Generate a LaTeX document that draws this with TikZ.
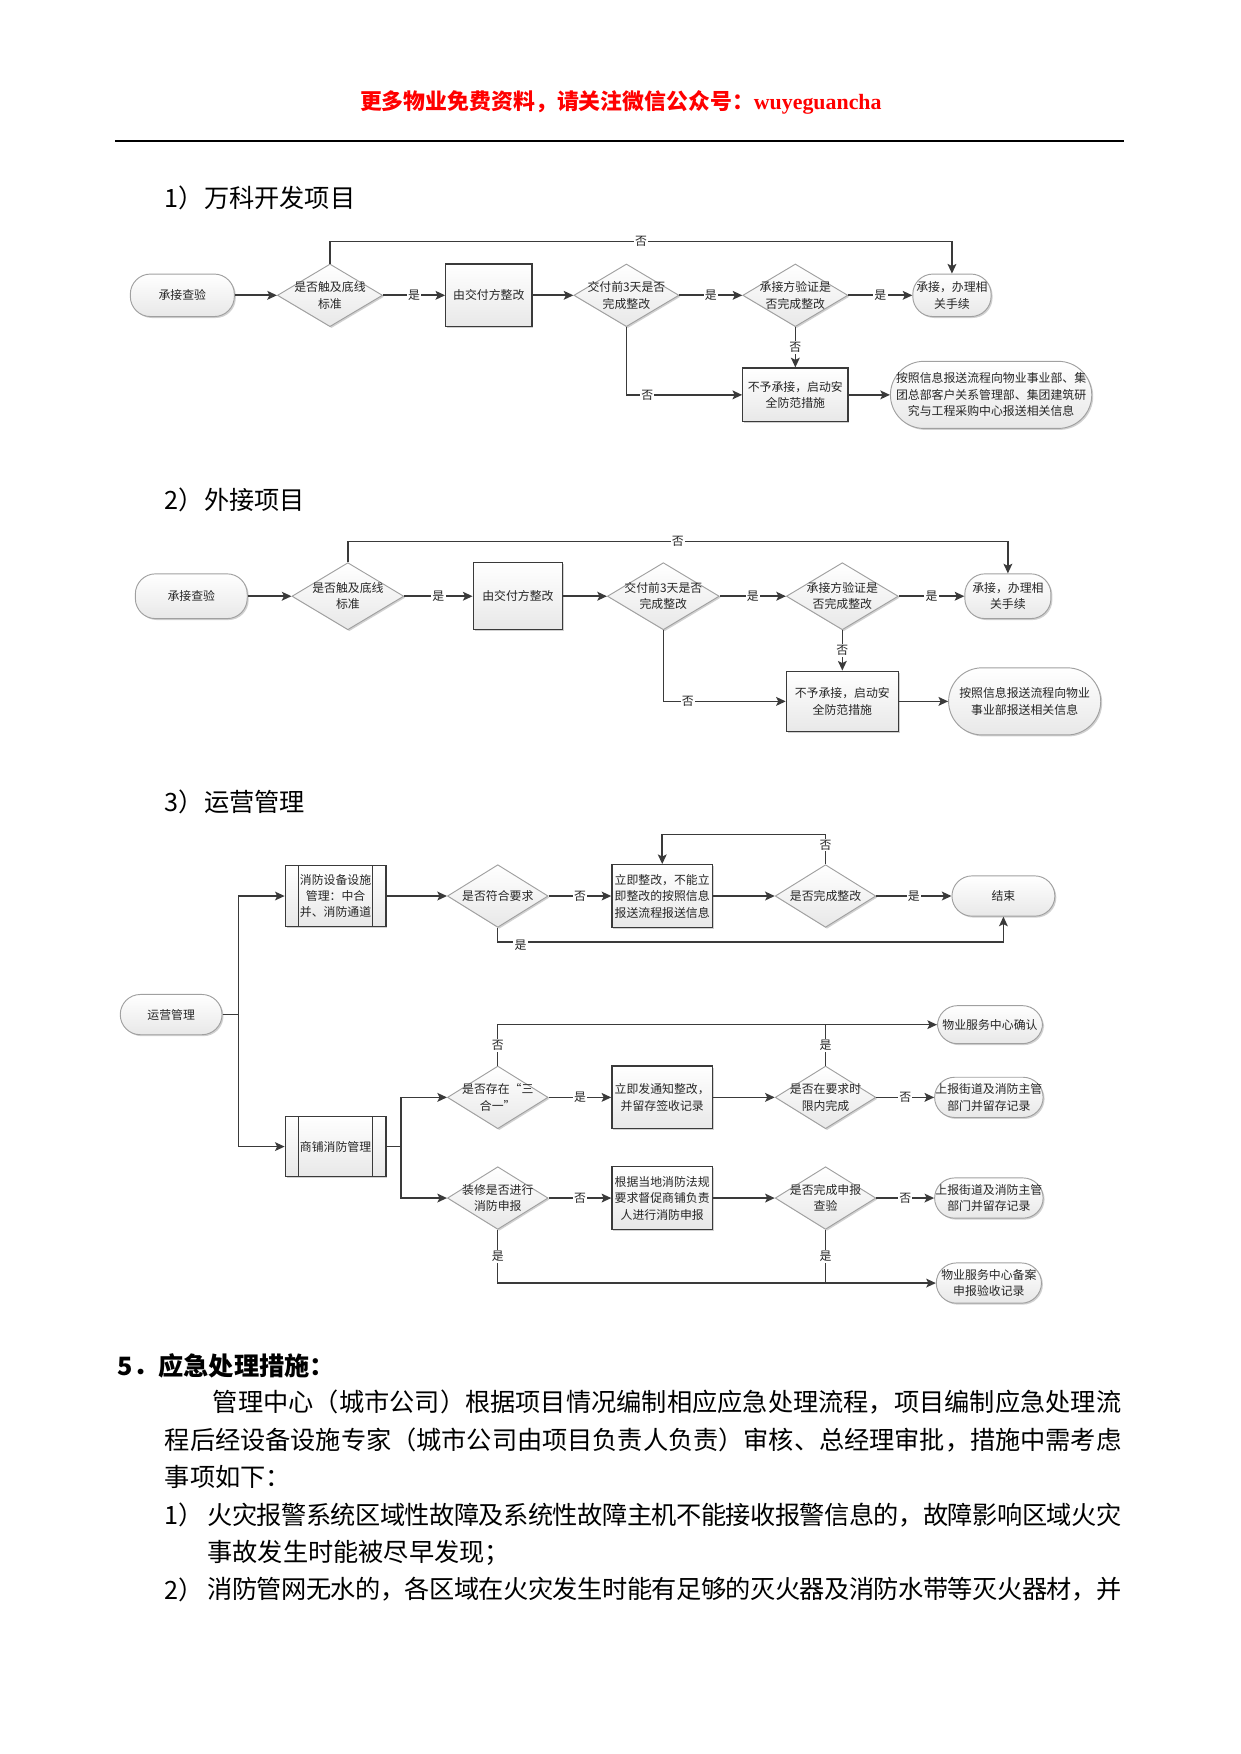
\documentclass[tikz,border=0pt]{standalone}
\usepackage{fontspec}
\setmainfont{Noto Sans CJK SC}
\newfontfamily\latinserif{Liberation Serif}
\usetikzlibrary{shapes.geometric,shadows,arrows.meta,calc}
\newdimen\PXd \PXd=0.5368pt
\makeatletter
\def\jl@end{\jl@end}
\newcommand\justline[2]{\hbox to #1\PXd{\jl@a#2\jl@end}}
\def\jl@a#1{#1\jl@b}
\def\jl@b#1{\ifx#1\jl@end\else\hskip 0pt plus 1fil minus 1pt#1\expandafter\jl@b\fi}
\makeatother
\definecolor{linec}{HTML}{3A3A3A}
\definecolor{shapeb}{HTML}{A0A0A0}
\definecolor{boxb}{HTML}{3A3A3A}
\begin{document}
\begin{tikzpicture}[x=0.5368pt,y=-0.5368pt,
  base/.style={font=\fontsize{5.7}{7.9}\selectfont, inner sep=0pt, align=center, text=black!85},
  sz/.style 2 args={minimum width=#1*\PXd, minimum height=#2*\PXd},
  gfill/.style={top color=white, bottom color=black!9},
  shad/.style={drop shadow={shadow xshift=0.7pt, shadow yshift=-0.7pt, fill=black!18, opacity=1}},
  dia/.style={base, shape=diamond, draw=shapeb, line width=0.45pt, gfill, shad},
  term/.style={base, shape=rectangle, rounded corners=#1*\PXd, draw=shapeb, line width=0.45pt, gfill, shad},
  term/.default=18,
  pbox/.style={base, shape=rectangle, draw=boxb, line width=0.6pt, gfill, shad},
  pproc/.style={pbox, path picture={
     \draw[boxb, line width=0.5pt] ([xshift=12*\PXd]path picture bounding box.north west) -- ([xshift=12*\PXd]path picture bounding box.south west);
     \draw[boxb, line width=0.5pt] ([xshift=-12*\PXd]path picture bounding box.north east) -- ([xshift=-12*\PXd]path picture bounding box.south east);}},
  arr/.style={draw=linec, line width=0.8pt, -{Stealth[length=4.6pt,width=4.2pt,inset=1pt]}},
  ln/.style={draw=linec, line width=0.8pt},
  thin/.style={line width=0.6pt},
  lbl/.style={base, fill=white, inner sep=0.6pt},
  body/.style={font=\fontsize{12.1}{14}\selectfont, inner sep=0pt, anchor=west, text=black}
]
\useasboundingbox (0,0) rectangle (1109,1568);

% ---------- header ----------
\node[inner sep=0pt, text=red, font=\fontsize{10.5}{12}\selectfont\bfseries] (hdr) at (555,92)
  {更多物业免费资料，请关注微信公众号：{\latinserif\bfseries wuyeguancha}};
\coordinate (rl) at (103,126);
\coordinate (rr) at (1005,126);
\draw[line width=1.1pt, black] (rl) -- (rr);

% ---------- titles ----------
\node[body] (t1) at (147,177) {1）万科开发项目};
\node[body] (t2) at (147,447) {2）外接项目};
\node[body] (t3) at (147,717) {3）运营管理};

% ================= chart 1 =================
\node[term, sz={93}{38}] (a1) at (163,264) {承接查验};
\node[dia, sz={94}{56}, label={[base]center:{是否触及底线\\标准}}] (a2) at (295,264) {};
\node[pbox, sz={77}{56}] (a3) at (437,264) {由交付方整改};
\node[dia, sz={94}{56}, label={[base]center:{交付前3天是否\\完成整改}}] (a4) at (560,264) {};
\node[dia, sz={94}{56}, label={[base]center:{承接方验证是\\否完成整改}}] (a5) at (711,264) {};
\node[term, sz={70}{38}] (a6) at (851,264) {承接，办理相\\关手续};
\node[pbox, sz={94}{48}] (a7) at (711,353) {不予承接，启动安\\全防范措施};
\node[term=30, sz={180}{60}] (a8) at (886,353) {按照信息报送流程向物业事业部、集\\团总部客户关系管理部、集团建筑研\\究与工程采购中心报送相关信息};

\draw[arr] (a1) -- (a2);
\draw[arr] (a2) -- node[lbl]{是} (a3);
\draw[arr] (a3) -- (a4);
\draw[arr] (a4) -- node[lbl]{是} (a5);
\draw[arr] (a5) -- node[lbl]{是} (a6);
\draw[arr] (a5) -- node[lbl]{否} (a7);
\draw[arr] (a4.south) |- node[lbl, pos=0.59]{否} (a7.west);
\draw[arr] (a7) -- (a8);
\draw[arr] (a2.north) -- (a2.north |- 0,216) -- node[lbl]{否} (a6.north |- 0,216) -- (a6.north);

% ================= chart 2 =================
\node[term, sz={100}{40}] (b1) at (171,533) {承接查验};
\node[dia, sz={100}{60}, label={[base]center:{是否触及底线\\标准}}] (b2) at (311,533) {};
\node[pbox, sz={80}{60}] (b3) at (463,533) {由交付方整改};
\node[dia, sz={100}{60}, label={[base]center:{交付前3天是否\\完成整改}}] (b4) at (593,533) {};
\node[dia, sz={100}{60}, label={[base]center:{承接方验证是\\否完成整改}}] (b5) at (753,533) {};
\node[term, sz={77}{40}] (b6) at (901,533) {承接，办理相\\关手续};
\node[pbox, sz={100}{54}] (b7) at (753,627) {不予承接，启动安\\全防范措施};
\node[term=30, sz={136}{60}] (b8) at (916,627) {按照信息报送流程向物业\\事业部报送相关信息};

\draw[arr] (b1) -- (b2);
\draw[arr] (b2) -- node[lbl]{是} (b3);
\draw[arr] (b3) -- (b4);
\draw[arr] (b4) -- node[lbl]{是} (b5);
\draw[arr] (b5) -- node[lbl]{是} (b6);
\draw[arr] (b5) -- node[lbl]{否} (b7);
\draw[arr] (b4.south) |- node[lbl, pos=0.6]{否} (b7.west);
\draw[arr] (b7) -- (b8);
\draw[arr] (b2.north) -- (b2.north |- 0,484) -- node[lbl]{否} (b6.north |- 0,484) -- (b6.north);

% ================= chart 3 =================
\node[term, sz={91}{36}] (c0) at (153,907) {运营管理};
\node[pproc, sz={90}{54}] (p1) at (300,801) {消防设备设施\\管理：中合\\并、消防通道};
\node[dia, sz={90}{56}, label={[base]center:{是否符合要求}}] (c1) at (445,801) {};
\node[pbox, sz={90}{56}] (c2) at (592,801) {立即整改，不能立\\即整改的按照信息\\报送流程报送信息};
\node[dia, sz={90}{56}, label={[base]center:{是否完成整改}}] (c3) at (738,801) {};
\node[term, sz={92}{36}] (c4) at (897,801) {结束};

\node[pproc, sz={90}{54}] (p2) at (300,1025) {商铺消防管理};
\node[dia, sz={90}{56}, label={[base]center:{是否存在“三\\合一”}}] (d1) at (445,981) {};
\node[pbox, sz={90}{56}] (d2) at (592,981) {立即发通知整改，\\并留存签收记录};
\node[dia, sz={90}{56}, label={[base]center:{是否在要求时\\限内完成}}] (d3) at (738,981) {};
\node[term, sz={94}{34}] (d4) at (885,916) {物业服务中心确认};
\node[term, sz={97}{36}] (d5) at (884,981) {上报街道及消防主管\\部门并留存记录};

\node[dia, sz={90}{56}, label={[base]center:{装修是否进行\\消防申报}}] (e1) at (445,1071) {};
\node[pbox, sz={90}{56}] (e2) at (592,1071) {根据当地消防法规\\要求督促商铺负责\\人进行消防申报};
\node[dia, sz={90}{56}, label={[base]center:{是否完成申报\\查验}}] (e3) at (738,1071) {};
\node[term, sz={97}{36}] (e4) at (884,1071) {上报街道及消防主管\\部门并留存记录};
\node[term, sz={94}{36}] (e5) at (884,1147) {物业服务中心备案\\申报验收记录};

\draw[arr, thin] (c0.east) -- ++(14,0) |- (p1.west);
\draw[arr, thin] (c0.east) -- ++(14,0) |- (p2.west);
\draw[arr] (p1) -- (c1);
\draw[arr] (c1) -- node[lbl]{否} (c2);
\draw[arr] (c2) -- (c3);
\draw[arr] (c3) -- node[lbl]{是} (c4);
\draw[arr] (c3.north) -- node[lbl, pos=0.65]{否} (c3.north |- 0,746) -| (c2.north);
\draw[arr, thin] (c1.south) -- (c1.south |- 0,842) -- node[lbl, pos=0.045, yshift=-1.5pt]{是} (c4.south |- 0,842) -- (c4.south);

\draw[ln, thin] (p2.east) -- ++(13,0) coordinate (sp);
\draw[arr] (sp) |- (d1.west);
\draw[arr] (sp) |- (e1.west);
\draw[arr] (d1) -- node[lbl]{是} (d2);
\draw[arr] (d2) -- (d3);
\draw[arr] (d3) -- node[lbl]{否} (d5);
\draw[arr, thin] (d1.north) -- node[lbl]{否} (d1.north |- d4.west) -- (d4.west);
\draw[ln, thin] (d3.north) -- node[lbl]{是} (d3.north |- d4.west);
\draw[arr] (e1) -- node[lbl]{否} (e2);
\draw[arr] (e2) -- (e3);
\draw[arr] (e3) -- node[lbl]{否} (e4);
\draw[arr, thin] (e1.south) -- node[lbl]{是} (e1.south |- e5.west) -- (e5.west);
\draw[ln, thin] (e3.south) -- node[lbl]{是} (e3.south |- e5.west);

% ---------- body text ----------
\node[body, font=\fontsize{12.1}{14}\selectfont\bfseries] (h5) at (105,1221) {5．应急处理措施：};
\node[body] (l1) at (190,1253) {\justline{812}{管理中心（城市公司）根据项目情况编制相应应急处理流程，项目编制应急处理流}};
\node[body] (l2) at (147,1287) {\justline{855}{程后经设备设施专家（城市公司由项目负责人负责）审核、总经理审批，措施中需考虑}};
\node[body] (l3) at (147,1320) {事项如下：};
\node[body] (n1) at (147,1354) {1）};
\node[body] (l4) at (185,1354) {\justline{817}{火灾报警系统区域性故障及系统性故障主机不能接收报警信息的，故障影响区域火灾}};
\node[body] (l5) at (185,1388) {事故发生时能被尽早发现；};
\node[body] (n2) at (147,1421) {2）};
\node[body] (l6) at (185,1421) {\justline{817}{消防管网无水的，各区域在火灾发生时能有足够的灭火器及消防水带等灭火器材，并}};
\end{tikzpicture}
\end{document}
